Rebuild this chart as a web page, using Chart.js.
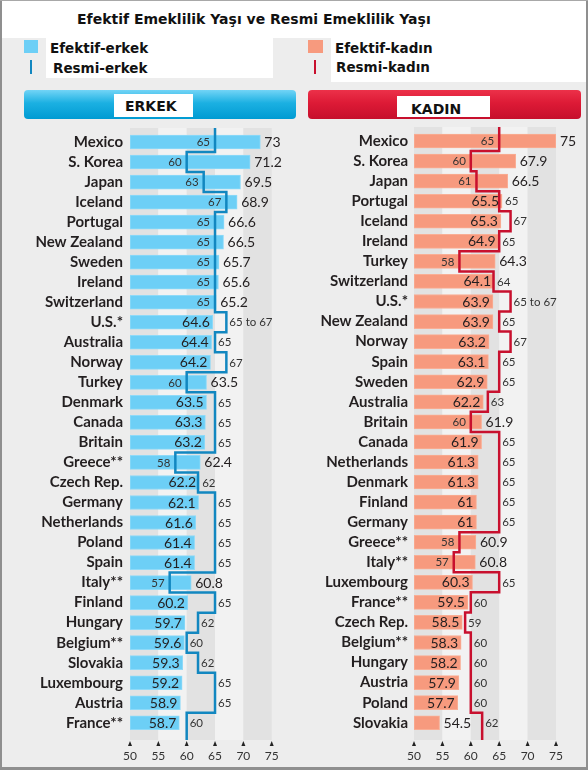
<!DOCTYPE html>
<html>
<head>
<meta charset="utf-8">
<script src="https://cdn.jsdelivr.net/npm/chart.js@4.4.1/dist/chart.umd.min.js"></script>
<style>
  html, body { margin: 0; padding: 0; background: #fff; }
  #page { position: relative; width: 588px; height: 772px; overflow: hidden; background: #fff; font-family: "DejaVu Sans", sans-serif; color: #111; }
  .abs { position: absolute; }
  .grey { left: 0; top: 38px; width: 588px; height: 730px; background: #ededed; }
  .bl { left: 0; top: 0; width: 2px; height: 770px; background: #8f8f8f; }
  .br { left: 586px; top: 0; width: 2px; height: 770px; background: #8f8f8f; }
  .bb { left: 0; top: 767px; width: 588px; height: 3px; background: #8f8f8f; }
  .bt { left: 0; top: 0; width: 588px; height: 1px; background: #a8a8a8; }
  .title { left: 77px; top: 12px; font-size: 14px; line-height: 14px; font-weight: bold; white-space: nowrap; }
  .lbox { background: #fff; }
  .ltxt { font-size: 13.5px; line-height: 13.5px; font-weight: bold; white-space: nowrap; }
  .hdr { border-radius: 4px; }
  .hdrbox { background: #fff; }
  .htxt { font-size: 14px; line-height: 14px; font-weight: bold; white-space: nowrap; }
  canvas { position: absolute; }
</style>
</head>
<body>
<div id="page">
  <div class="abs grey"></div>
  <div class="abs title">Efektif Emeklilik Yaşı ve Resmi Emeklilik Yaşı</div>

  <div class="abs lbox" style="left:46px;top:38px;width:227px;height:40px;"></div>
  <div class="abs lbox" style="left:331px;top:38px;width:255px;height:44px;"></div>
  <div class="abs" style="left:24px;top:40px;width:14px;height:13px;background:#6dcff6;"></div>
  <div class="abs" style="left:30px;top:60px;width:2px;height:14px;background:#1287c0;"></div>
  <div class="abs ltxt" style="left:50px;top:42px;">Efektif-erkek</div>
  <div class="abs ltxt" style="left:53px;top:61.5px;">Resmi-erkek</div>
  <div class="abs" style="left:308px;top:40px;width:15px;height:13px;background:#f79a7e;"></div>
  <div class="abs" style="left:314px;top:60px;width:2px;height:14px;background:#c8102e;"></div>
  <div class="abs ltxt" style="left:335px;top:42px;">Efektif-kadın</div>
  <div class="abs ltxt" style="left:336px;top:61px;">Resmi-kadın</div>

  <div class="abs hdr" style="left:24px;top:90px;width:272px;height:29px;background:linear-gradient(#72d4f6,#1bb0e2 45%,#009bd2);"></div>
  <div class="abs hdrbox" style="left:114px;top:94px;width:79px;height:23px;"></div>
  <div class="abs htxt" style="left:125px;top:99.2px;">ERKEK</div>
  <div class="abs hdr" style="left:308px;top:90px;width:273px;height:29px;background:linear-gradient(#ec3149,#dd1a36 45%,#c60f2c);"></div>
  <div class="abs hdrbox" style="left:397px;top:96px;width:93px;height:21px;"></div>
  <div class="abs htxt" style="left:411px;top:101.7px;">KADIN</div>

  <canvas id="men" width="294" height="660" style="left:0;top:112px;width:294px;height:660px;"></canvas>
  <canvas id="women" width="294" height="660" style="left:294px;top:112px;width:294px;height:660px;"></canvas>

  <div class="abs bl"></div>
  <div class="abs br"></div>
  <div class="abs bb"></div>
  <div class="abs bt"></div>
</div>
<script>
// ---------------- DATA ----------------
const menCountries = ['Mexico', 'S. Korea', 'Japan', 'Iceland', 'Portugal', 'New Zealand', 'Sweden', 'Ireland',
  'Switzerland', 'U.S.*', 'Australia', 'Norway', 'Turkey', 'Denmark', 'Canada', 'Britain', 'Greece**',
  'Czech Rep.', 'Germany', 'Netherlands', 'Poland', 'Spain', 'Italy**', 'Finland', 'Hungary', 'Belgium**',
  'Slovakia', 'Luxembourg', 'Austria', 'France**'];
const menEffective = [73, 71.2, 69.5, 68.9, 66.6, 66.5, 65.7, 65.6, 65.2, 64.6, 64.4, 64.2, 63.5, 63.5, 63.3,
  63.2, 62.4, 62.2, 62.1, 61.6, 61.4, 61.4, 60.8, 60.2, 59.7, 59.6, 59.3, 59.2, 58.9, 58.7];
const menOfficial = [65, 60, 63, 67, 65, 65, 65, 65, 65, 67, 65, 67, 60, 65, 65, 65, 58, 62, 65, 65, 65, 65,
  57, 65, 62, 60, 62, 65, 65, 60];

const womenCountries = ['Mexico', 'S. Korea', 'Japan', 'Portugal', 'Iceland', 'Ireland', 'Turkey', 'Switzerland',
  'U.S.*', 'New Zealand', 'Norway', 'Spain', 'Sweden', 'Australia', 'Britain', 'Canada', 'Netherlands',
  'Denmark', 'Finland', 'Germany', 'Greece**', 'Italy**', 'Luxembourg', 'France**', 'Czech Rep.',
  'Belgium**', 'Hungary', 'Austria', 'Poland', 'Slovakia'];
const womenEffective = [75, 67.9, 66.5, 65.5, 65.3, 64.9, 64.3, 64.1, 63.9, 63.9, 63.2, 63.1, 62.9, 62.2, 61.9,
  61.9, 61.3, 61.3, 61, 61, 60.9, 60.8, 60.3, 59.5, 58.5, 58.3, 58.2, 57.9, 57.7, 54.5];
const womenOfficial = [65, 60, 61, 65, 67, 65, 58, 64, 67, 65, 67, 65, 65, 63, 60, 65, 65, 65, 65, 65, 58, 57,
  65, 60, 59, 60, 60, 60, 60, 62];

// official-age text where it is a range rather than a single age
const officialNotes = { 'U.S.*': '65 to 67' };
const xTicks = [50, 55, 60, 65, 70, 75];

// ---------------- RENDERING ----------------
const EFF_FONT = '14px Lato';
const OFF_FONT = '11.5px Lato';
const LABEL_FONT = { family: 'Lato', size: 15, weight: 'bold' };

const bandsPlugin = {
  id: 'bands',
  beforeDatasetsDraw(chart) {
    const { ctx, chartArea, scales: { x } } = chart;
    ctx.save();
    for (let k = 0; k < xTicks.length - 1; k++) {
      const a = x.getPixelForValue(xTicks[k]), b = x.getPixelForValue(xTicks[k + 1]);
      ctx.fillStyle = k % 2 === 0 ? '#e2e2e2' : '#f2f2f2';
      ctx.fillRect(a, chartArea.top, b - a, chartArea.bottom - chartArea.top);
    }
    ctx.restore();
  },
  afterDraw(chart) {
    const { ctx, chartArea, scales: { x } } = chart;
    ctx.save();
    ctx.fillStyle = '#222';
    x.ticks.forEach(t => {
      const px = x.getPixelForValue(t.value);
      const y0 = chartArea.bottom + 1;
      ctx.beginPath();
      ctx.moveTo(px - 2, y0 + 5);
      ctx.lineTo(px + 2, y0 + 5);
      ctx.lineTo(px, y0);
      ctx.closePath();
      ctx.fill();
    });
    ctx.restore();
  }
};

const valueLabelsPlugin = {
  id: 'valueLabels',
  afterDatasetsDraw(chart, args, opts) {
    const { ctx, scales: { x } } = chart;
    const meta = chart.getDatasetMeta(1);
    const basePx = x.getPixelForValue(x.min);
    ctx.save();
    ctx.textBaseline = 'middle';
    meta.data.forEach((bar, i) => {
      const e = opts.effective[i], o = opts.official[i], name = opts.countries[i];
      const eText = String(e);
      const oText = officialNotes[name] || String(o);
      const barEnd = bar.x, lineX = x.getPixelForValue(o), y = bar.y + 0.5;
      ctx.font = EFF_FONT;
      const eW = ctx.measureText(eText).width;
      const fits = (barEnd - basePx) > eW + 6;
      const effOut = (e > o && !opts.effInside.includes(name)) || !fits;
      if (effOut) {
        ctx.font = EFF_FONT; ctx.fillStyle = '#231f20'; ctx.textAlign = 'left';
        ctx.fillText(eText, barEnd + 4, y);
        ctx.font = OFF_FONT; ctx.fillStyle = '#333';
        if (e > o) { ctx.textAlign = 'right'; ctx.fillText(oText, lineX - 5, y); }
        else { ctx.textAlign = 'left'; ctx.fillText(oText, lineX + 3, y); }
      } else {
        ctx.font = EFF_FONT; ctx.fillStyle = '#231f20'; ctx.textAlign = 'right';
        ctx.fillText(eText, barEnd - 3, y);
        ctx.font = OFF_FONT; ctx.fillStyle = '#333'; ctx.textAlign = 'left';
        ctx.fillText(oText, Math.max(barEnd, lineX) + 3, y);
      }
    });
    ctx.restore();
  }
};

const Y_MIN = -0.7, Y_MAX = 29.86;

function stepPoints(official) {
  const pts = [{ x: official[0], y: Y_MIN }];
  official.forEach((v, i) => { pts.push({ x: v, y: i - 0.5 }); pts.push({ x: v, y: i + 0.5 }); });
  pts.push({ x: official[official.length - 1], y: Y_MAX });
  return pts;
}

function makeChart(id, countries, effective, official, barColor, barBorder, lineColor, axisWidth, labelPad, padRight, effInside) {
  return new Chart(document.getElementById(id), {
    type: 'bar',
    data: {
      datasets: [
        {
          type: 'line',
          data: stepPoints(official),
          borderColor: lineColor,
          borderWidth: 2.5,
          pointRadius: 0,
          fill: false,
          tension: 0,
          borderJoinStyle: 'miter',
          order: 0
        },
        {
          type: 'bar',
          data: effective.map((v, i) => ({ x: v, y: i })),
          backgroundColor: barColor,
          borderColor: barBorder,
          borderWidth: 1,
          borderSkipped: false,
          barThickness: 14,
          base: xTicks[0],
          order: 1
        }
      ]
    },
    options: {
      indexAxis: 'y',
      responsive: false,
      animation: false,
      devicePixelRatio: 1,
      layout: { padding: { top: 15, right: padRight, left: 0, bottom: 0 } },
      plugins: {
        legend: { display: false },
        tooltip: { enabled: false },
        valueLabels: { countries, effective, official, effInside }
      },
      scales: {
        x: {
          type: 'linear',
          min: xTicks[0],
          max: xTicks[xTicks.length - 1],
          offset: false,
          grid: { display: false, drawTicks: false },
          border: { display: false },
          afterBuildTicks: s => { s.ticks = xTicks.map(v => ({ value: v })); },
          afterFit: s => { s.height = 32; },
          ticks: { color: '#333', font: { family: 'Lato', size: 12 }, padding: 9, maxRotation: 0 }
        },
        y: {
          type: 'linear',
          reverse: true,
          min: Y_MIN,
          max: Y_MAX,
          offset: false,
          grid: { display: false, drawTicks: false, offset: false },
          border: { display: false },
          afterBuildTicks: s => { s.ticks = countries.map((c, i) => ({ value: i })); },
          afterFit: s => { s.width = axisWidth; },
          ticks: {
            autoSkip: false,
            color: '#231f20',
            font: LABEL_FONT,
            padding: labelPad,
            callback: v => countries[v]
          }
        }
      }
    },
    plugins: [bandsPlugin, valueLabelsPlugin]
  });
}

makeChart('men', menCountries, menEffective, menOfficial, '#6dcff6', '#8fdaf8', '#1287c0', 130, 7, 22.3, ['Czech Rep.']);
makeChart('women', womenCountries, womenEffective, womenOfficial, '#f79a7e', '#f9ae95', '#c8102e', 120, 6, 32, ['Portugal', 'Switzerland']);
</script>
</body>
</html>
